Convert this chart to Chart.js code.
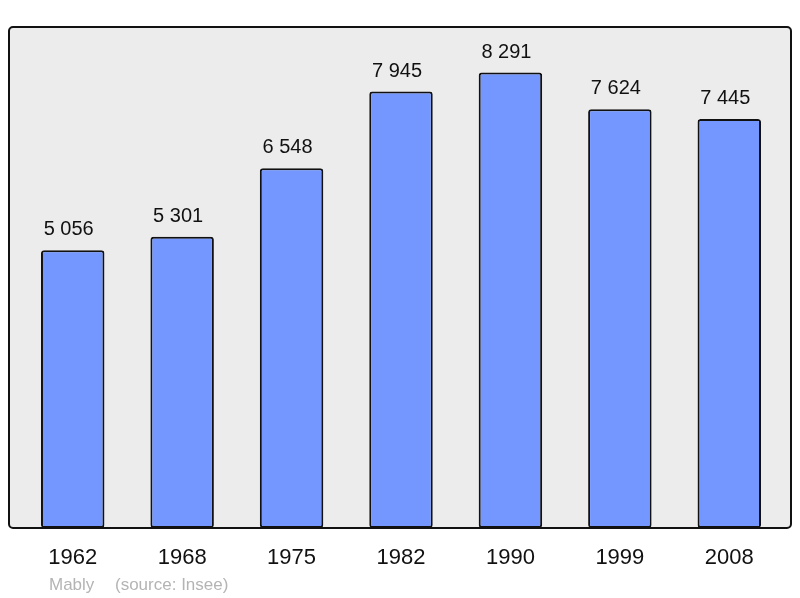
<!DOCTYPE html>
<html>
<head>
<meta charset="utf-8">
<script src="https://cdn.jsdelivr.net/npm/chart.js@4/dist/chart.umd.min.js"></script>
<style>
  html, body { margin: 0; padding: 0; background: #fff; }
  #wrap { position: relative; width: 800px; height: 598px; }
</style>
</head>
<body>
<div id="wrap"><canvas id="pop"></canvas></div>
<script>
const YEARS = ['1962', '1968', '1975', '1982', '1990', '1999', '2008'];
const POPULATION = [5056, 5301, 6548, 7945, 8291, 7624, 7445];
const PLACE = 'Mably';
const SOURCE = '(source: Insee)';

const fmt = v => String(v).replace(/\B(?=(\d{3})+(?!\d))/g, ' ');

// grey frame behind the bars, a bit wider than the category area
const framePlugin = {
  id: 'frame',
  beforeDatasetsDraw(chart) {
    const { ctx, chartArea: a } = chart;
    const x = a.left - 9, y = a.top, w = a.right - a.left + 16, h = a.bottom - a.top;
    ctx.save();
    ctx.beginPath();
    ctx.roundRect(x, y, w, h, 4);
    ctx.fillStyle = '#ececec';
    ctx.fill();
    ctx.restore();
  },
  afterDatasetsDraw(chart) {
    const { ctx, chartArea: a } = chart;
    const x = a.left - 9, y = a.top, w = a.right - a.left + 16, h = a.bottom - a.top;
    ctx.save();
    ctx.beginPath();
    ctx.roundRect(x, y, w, h, 4);
    ctx.lineWidth = 2;
    ctx.strokeStyle = '#111';
    ctx.stroke();
    ctx.restore();
  }
};

const valueLabels = {
  id: 'valueLabels',
  afterDatasetsDraw(chart) {
    const { ctx } = chart;
    const meta = chart.getDatasetMeta(0);
    ctx.save();
    ctx.font = '20px "Liberation Sans", Arial, sans-serif';
    ctx.fillStyle = '#111';
    ctx.textAlign = 'center';
    ctx.textBaseline = 'alphabetic';
    meta.data.forEach((bar, i) => {
      ctx.fillText(fmt(POPULATION[i]), bar.x - 4, bar.y - 15);
    });
    ctx.restore();
  }
};

const footer = {
  id: 'footer',
  afterDraw(chart) {
    const { ctx } = chart;
    ctx.save();
    ctx.font = '17px "Liberation Sans", Arial, sans-serif';
    ctx.fillStyle = '#b4b4b4';
    ctx.textBaseline = 'middle';
    ctx.fillText(PLACE, 49, 585);
    ctx.fillText(SOURCE, 115, 585);
    ctx.restore();
  }
};

new Chart(document.getElementById('pop').getContext('2d'), {
  type: 'bar',
  data: {
    labels: YEARS,
    datasets: [{
      data: POPULATION,
      backgroundColor: '#7396ff',
      borderColor: '#111',
      borderWidth: 2,
      borderRadius: 3,
      borderSkipped: false,
      categoryPercentage: 1,
      barPercentage: 0.58
    }]
  },
  options: {
    responsive: true,
    maintainAspectRatio: false,
    animation: false,
    layout: { padding: { left: 18, right: 16, top: 27, bottom: 0 } },
    plugins: {
      legend: { display: false },
      tooltip: { enabled: false }
    },
    scales: {
      x: {
        grid: { display: false, drawTicks: false },
        border: { display: false },
        ticks: {
          color: '#111',
          padding: 17,
          font: { family: '"Liberation Sans", Arial, sans-serif', size: 22 }
        },
        afterFit: axis => { axis.height = 70; }
      },
      y: {
        display: false,
        min: 0,
        max: 9120
      }
    }
  },
  plugins: [framePlugin, valueLabels, footer]
});
</script>
</body>
</html>
